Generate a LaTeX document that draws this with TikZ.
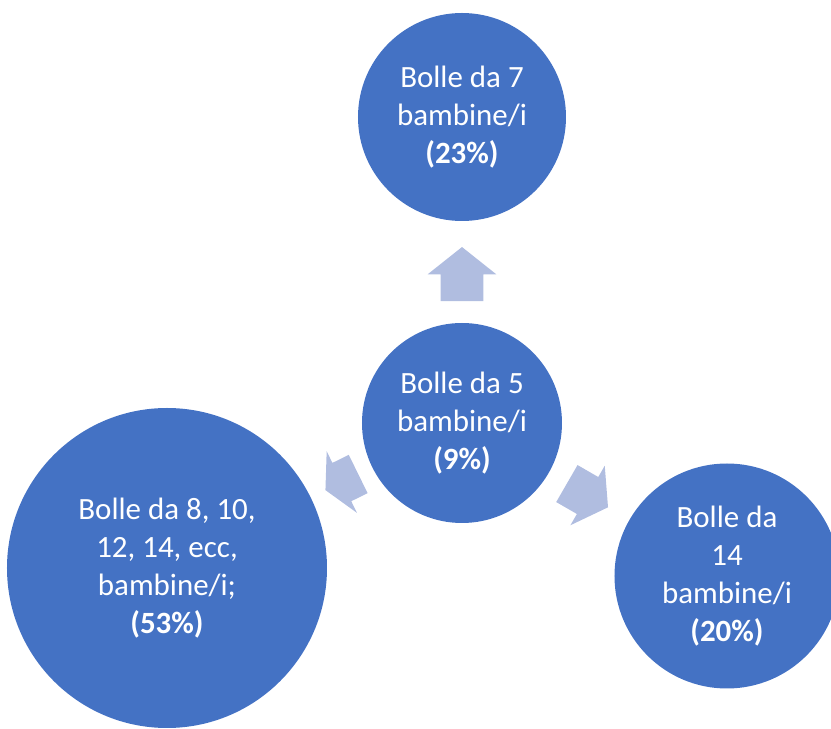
\documentclass[tikz,border=0pt]{standalone}
\usepackage{fontspec}
\setmainfont{Carlito}
\usepackage{xcolor}
\usepackage{tikz}
\usetikzlibrary{shapes,arrows,positioning,calc}
\definecolor{bubbleblue}{RGB}{68, 114, 196}
\definecolor{arrowlilac}{RGB}{176, 189, 224}

\begin{document}
\begin{tikzpicture}[
        bubble/.style={circle, fill=bubbleblue, draw=none, text=white, align=center, inner sep=0pt, font=\fontsize{17.6}{21.6}\selectfont},
        spoke/.style={single arrow, fill=arrowlilac, draw=none, inner xsep=0pt, inner ysep=0.42cm, single arrow head extend=0.26cm, sloped, allow upside down, anchor=tail, pos=0.22}
    ]
        \useasboundingbox (-9.24, -6.12) rectangle (7.38, 8.46);
        \clip (-9.24, -6.12) rectangle (7.38, 8.46);

        % Centre: groups of 5
        \node[bubble, minimum size=4cm] (five) at (0, 0) {Bolle da 5\\bambine/i\\\textbf{(9\%)}};

        % Top: groups of 7
        \node[bubble, minimum size=4.16cm] (seven) at (0, 6.12) {Bolle da 7\\bambine/i\\\textbf{(23\%)}};

        % Left: groups of 8, 10, 12, 14 ...
        \node[bubble, minimum size=6.4cm] (many) at (-5.9, -2.9) {Bolle da 8, 10,\\12, 14, ecc,\\bambine/i;\\\textbf{(53\%)}};

        % Right: groups of 14
        \node[bubble, minimum size=4.5cm] (fourteen) at (5.3, -3.06) {Bolle da\\14\\bambine/i\\\textbf{(20\%)}};

        % Arrows
        \path (five) -- node[spoke, pos=0.21, minimum height=1.08cm, single arrow tip angle=103] {} (seven);
        \path (five) -- node[spoke, minimum height=0.73cm, single arrow tip angle=124] {} (many);
        \path (five) -- node[spoke, minimum height=0.95cm, single arrow tip angle=111] {} (fourteen);
    \end{tikzpicture}
\end{document}
